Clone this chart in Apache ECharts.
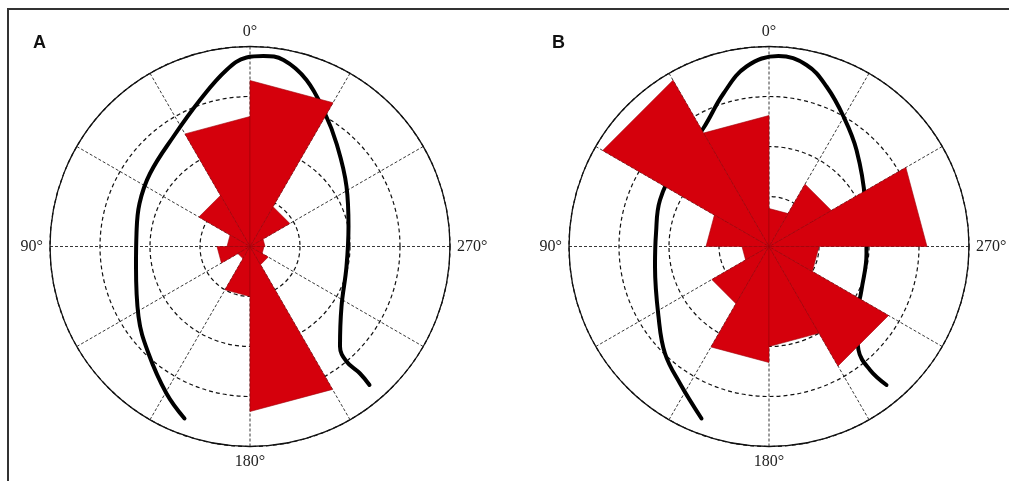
<!DOCTYPE html>
<html>
<head>
<meta charset="utf-8">
<script src="https://cdn.jsdelivr.net/npm/echarts@6/dist/echarts.min.js"></script>
<style>
  html, body { margin: 0; padding: 0; background: #fff; }
  #main { width: 1009px; height: 481px; }
</style>
</head>
<body>
<div id="main"></div>
<script>
// 30° bins, start angle counted counterclockwise from 0° (top); radius in ring units (4 = outer circle)
const binStart = [0, 30, 60, 90, 120, 150, 180, 210, 240, 270, 300, 330];
const binWidth = 30;
const roseA = [2.6, 1.18, 0.46, 0.66, 0.28, 1.0, 3.3, 0.42, 0.28, 0.3, 0.92, 3.32];
const roseB = [2.62, 3.84, 1.26, 0.54, 1.32, 2.32, 2.0, 2.76, 1.0, 3.16, 1.44, 0.76];
const quarterLabels = [0, 90, 180, 270];

// outline curves, x/y in ring units from the centre
const outlineA = [[-1.31, -3.44], [-1.67, -2.94], [-2.03, -2.14], [-2.23, -1.4], [-2.28, -0.4], [-2.27, 0.26], [-2.21, 0.86], [-2.0, 1.46], [-1.53, 2.2], [-1.0, 2.93], [-0.47, 3.53], [-0.07, 3.78], [0.27, 3.81], [0.67, 3.73], [1.13, 3.33], [1.5, 2.66], [1.73, 2.06], [1.93, 1.2], [1.97, 0.4], [1.93, -0.4], [1.83, -1.2], [1.8, -2.0], [1.93, -2.3], [2.2, -2.54], [2.39, -2.77]];
const outlineB = [[-1.35, -3.44], [-1.78, -2.74], [-2.08, -2.14], [-2.21, -1.4], [-2.28, -0.4], [-2.26, 0.26], [-2.18, 0.93], [-1.85, 1.6], [-1.31, 2.37], [-0.91, 3.06], [-0.45, 3.6], [0.19, 3.81], [0.75, 3.63], [1.15, 3.2], [1.49, 2.6], [1.75, 1.93], [1.92, 0.93], [1.95, -0.14], [1.85, -0.87], [1.75, -1.47], [1.79, -2.07], [2.02, -2.47], [2.35, -2.77]];

const panels = [
  { name: 'A', cx: 250, cy: 246.5, rose: roseA, outline: outlineA },
  { name: 'B', cx: 769, cy: 246.5, rose: roseB, outline: outlineB }
];
const R = 200;

let chart = echarts.init(document.getElementById('main'));

let polar = [], angleAxis = [], radiusAxis = [], grid = [], xAxis = [], yAxis = [], series = [], title = [];

// straight-edged wedge: centre + two points at the bin edges
function renderWedge(params, api) {
  let r = api.value(0);
  let a = api.value(1);
  let c = api.coord([0, a]);
  let p1 = api.coord([r, a]);
  let p2 = api.coord([r, a + binWidth]);
  return {
    type: 'polygon',
    shape: { points: [c, p1, p2] },
    style: { fill: '#d5000c', stroke: '#a00008', lineWidth: 0.6 }
  };
}

panels.forEach((p, i) => {
  polar.push({ center: [p.cx, p.cy], radius: R });
  angleAxis.push({
    polarIndex: i,
    type: 'value',
    min: 0,
    max: 360,
    interval: 30,
    startAngle: 90,
    clockwise: false,
    axisLine: { lineStyle: { color: '#111', width: 1.3 } },
    axisTick: { show: false },
    axisLabel: {
      margin: 7,
      color: '#222',
      fontFamily: 'Liberation Serif',
      fontSize: 16,
      formatter: (v) => (v < 360 && quarterLabels.indexOf(v) > -1) ? v + '°' : ''
    },
    splitLine: { lineStyle: { color: '#222', width: 0.9, type: [3, 2] } }
  });
  radiusAxis.push({
    polarIndex: i,
    min: 0,
    max: 4,
    interval: 1,
    axisLine: { show: false },
    axisTick: { show: false },
    axisLabel: { show: false },
    splitLine: { showMaxLine: false, lineStyle: { color: '#111', width: 1.2, type: [4, 3] } }
  });

  // cartesian overlay for the outline
  grid.push({ left: p.cx - R, top: p.cy - R, width: 2 * R, height: 2 * R });
  xAxis.push({ gridIndex: i, type: 'value', min: -4, max: 4, show: false });
  yAxis.push({ gridIndex: i, type: 'value', min: -4, max: 4, show: false });

  series.push({
    type: 'line',
    xAxisIndex: i,
    yAxisIndex: i,
    data: p.outline,
    smooth: 0.4,
    showSymbol: false,
    z: 3,
    lineStyle: { color: '#000', width: 4, cap: 'round' }
  });
  series.push({
    type: 'custom',
    coordinateSystem: 'polar',
    polarIndex: i,
    data: p.rose.map((v, k) => [v, binStart[k]]),
    renderItem: renderWedge,
    z: 4
  });

  title.push({
    text: p.name,
    left: p.cx - 217,
    top: 34,
    padding: 0,
    textStyle: { fontFamily: 'Liberation Sans', fontWeight: 'bold', fontSize: 18, color: '#111' }
  });
});

let option = {
  backgroundColor: '#fff',
  animation: false,
  title: title,
  polar: polar,
  angleAxis: angleAxis,
  radiusAxis: radiusAxis,
  grid: grid,
  xAxis: xAxis,
  yAxis: yAxis,
  series: series,
  graphic: [{
    type: 'rect',
    shape: { x: 8, y: 9, width: 1100, height: 600 },
    style: { fill: 'none', stroke: '#333', lineWidth: 2 },
    silent: true
  }]
};

chart.setOption(option);
</script>
</body>
</html>
